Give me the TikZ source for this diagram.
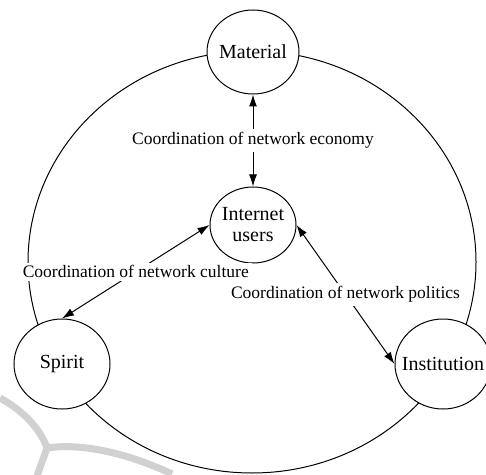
\documentclass[tikz,border=0pt]{standalone}
\usepackage{fontspec}
\setmainfont{Liberation Serif}
\usetikzlibrary{shapes.geometric,arrows.meta}

\tikzset{
	sphere/.style={draw, ellipse, fill=white, inner sep=0pt, line width=0.5pt},
	spheretext/.style={font=\fontsize{10}{10.5}\selectfont, align=center, inner sep=0pt},
	coord/.style={fill=white, inner sep=1.5pt, font=\fontsize{8.75}{10}\selectfont},
	link/.style={>={Latex[length=6pt,width=4pt]}, <->, line width=0.5pt},
}

\begin{document}
\begin{tikzpicture}[x=0.5pt, y=-0.5pt]
	\useasboundingbox (0,0) rectangle (486,475);

	% faint swoosh in the lower left corner
	\draw [black!18, line width=3.5pt] (0,398) .. controls (22,410) and (40,428) .. (47,448);
	\draw [black!18, line width=3.5pt] (47,448) .. controls (80,443) and (125,452) .. (172,474);
	\draw [black!18, line width=3.5pt] (47,448) -- (37,476);

	% outer ring
	\coordinate (ring) at (252,262);
	\draw [line width=0.5pt] (ring) ellipse [x radius=112pt, y radius=105.5pt];

	\node [sphere, minimum width=46pt, minimum height=42pt,
		label={[spheretext]center:Material}] (material) at (253,52) {};
	\node [sphere, minimum width=43pt, minimum height=38pt,
		label={[spheretext]center:Internet\\users}] (users) at (253,225) {};
	\node [sphere, minimum width=48pt, minimum height=45pt,
		label={[spheretext]center:Spirit}] (spirit) at (62,364) {};
	\node [sphere, minimum width=48pt, minimum height=45pt,
		label={[spheretext]center:Institution}] (inst) at (443,364) {};

	\draw [link] (material.south) -- node [coord] {Coordination of network economy} (users.north);
	\draw [link] (users.west) -- node [coord] {Coordination of network culture} (spirit.north);
	\draw [link] (users.east) -- node [coord] {Coordination of network politics} (inst.west);
\end{tikzpicture}
\end{document}
